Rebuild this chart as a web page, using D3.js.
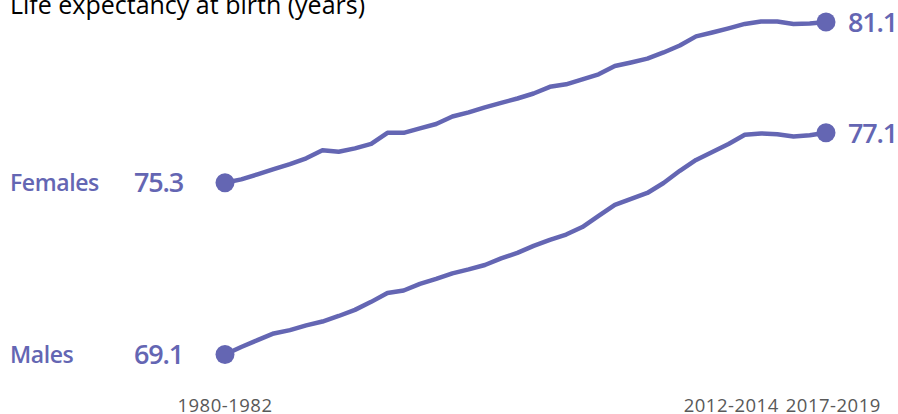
<!DOCTYPE html>
<html>
<head>
<meta charset="utf-8">
<script src="https://cdn.jsdelivr.net/npm/d3@7"></script>
<style>
  body { margin: 0; background: #fff; }
  svg text { font-family: "Open Sans", sans-serif; }
</style>
</head>
<body>
<svg id="chart" width="898" height="414"></svg>
<script>
var periods = [];
for (var yr = 1980; yr <= 2017; yr++) periods.push(yr + "-" + (yr + 2));

var females = [75.3, 75.42, 75.6, 75.79, 75.97, 76.18, 76.47, 76.42, 76.54, 76.7,
               77.1, 77.1, 77.26, 77.42, 77.69, 77.84, 78.02, 78.18, 78.34, 78.52,
               78.76, 78.85, 79.03, 79.21, 79.51, 79.64, 79.78, 80.0, 80.25, 80.58,
               80.72, 80.87, 81.03, 81.12, 81.12, 81.03, 81.05, 81.1];

var males = [69.1, 69.37, 69.62, 69.86, 69.98, 70.15, 70.29, 70.49, 70.71, 71.0,
             71.32, 71.41, 71.65, 71.83, 72.03, 72.17, 72.33, 72.57, 72.77, 73.02,
             73.24, 73.43, 73.7, 74.1, 74.5, 74.72, 74.93, 75.29, 75.73, 76.12,
             76.41, 76.7, 77.03, 77.08, 77.05, 76.97, 77.01, 77.1];

var seriesNames = ["Females", "Males"];
var tickLabels = ["1980-1982", "2012-2014", "2017-2019"];
var chartTitle = "Life expectancy at birth (years)";

var svg = d3.select("#chart"),
    lineColor = "#6466b3",
    textGrey = "#595959";

var x = d3.scalePoint()
      .domain(periods)
      .range([225, 826]);

var y = d3.scaleLinear()
      .domain([69.1, 81.1])
      .range([354.5, 22]);

var line = d3.line()
      .x(function(d, i) { return x(periods[i]); })
      .y(function(d) { return y(d); });

// title
svg.append("text")
    .attr("x", 10)
    .attr("y", 14)
    .style("font-size", "25px")
    .style("fill", "#000")
    .text(chartTitle);

var series = [females, males];

series.forEach(function(vals, k) {
  svg.append("path")
      .datum(vals)
      .attr("d", line)
      .style("fill", "none")
      .style("stroke", lineColor)
      .style("stroke-width", 4.5)
      .style("stroke-linejoin", "round")
      .style("stroke-linecap", "round");

  var ends = [0, vals.length - 1];
  svg.selectAll(null)
      .data(ends)
      .enter()
      .append("circle")
      .attr("cx", function(i) { return x(periods[i]); })
      .attr("cy", function(i) { return y(vals[i]); })
      .attr("r", 9.5)
      .style("fill", lineColor);

  // left labels
  svg.append("text")
      .attr("x", 10)
      .attr("y", y(vals[0]))
      .attr("dy", "0.36em")
      .style("font-size", "23px")
      .style("fill", lineColor)
      .style("font-weight", 600)
      .style("letter-spacing", "-0.4px")
      .text(seriesNames[k]);

  svg.append("text")
      .attr("x", 183)
      .attr("y", y(vals[0]))
      .attr("dy", "0.36em")
      .attr("text-anchor", "end")
      .style("font-size", "27px")
      .style("font-weight", 600)
      .style("fill", lineColor)
      .style("letter-spacing", "-1.2px")
      .text(vals[0].toFixed(1));

  // right value
  svg.append("text")
      .attr("x", x(periods[vals.length - 1]) + 22)
      .attr("y", y(vals[vals.length - 1]))
      .attr("dy", "0.36em")
      .style("font-size", "27px")
      .style("font-weight", 600)
      .style("fill", lineColor)
      .style("letter-spacing", "-1.2px")
      .text(vals[vals.length - 1].toFixed(1));
});

// x axis labels, pushed apart when they overlap
var xLabels = svg.selectAll("text.xLabel")
    .data(tickLabels)
    .enter()
    .append("text")
    .attr("class", "xLabel")
    .attr("x", function(d) { return x(d); })
    .attr("y", 412)
    .attr("text-anchor", "middle")
    .style("font-size", "18.5px")
    .style("letter-spacing", "0.5px")
    .style("fill", textGrey)
    .text(function(d) { return d; });

var boxes = [];
xLabels.each(function(d) { boxes.push({node: this, cx: x(d), w: this.getComputedTextLength()}); });
for (var i = 1; i < boxes.length; i++) {
  var a = boxes[i - 1], b = boxes[i];
  var overlap = (a.cx + a.w / 2 + 7) - (b.cx - b.w / 2);
  if (overlap > 0) {
    a.cx -= overlap * 0.65;
    b.cx += overlap * 0.35;
  }
}
boxes.forEach(function(b) { d3.select(b.node).attr("x", b.cx); });
</script>
</body>
</html>
